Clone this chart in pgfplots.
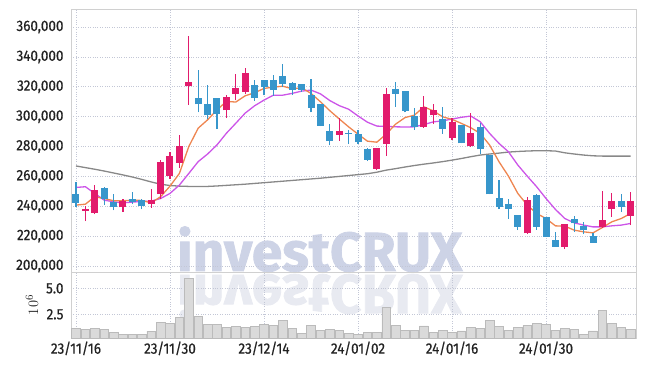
\documentclass[border=0pt]{standalone}
\usepackage{fontspec}
\setmainfont{Fira Sans}[FakeStretch=0.9, FakeBold=0.6]
\newfontfamily\wmfont{Fira Sans}[FakeBold=1.5]
\usepackage{pgfplots}
\pgfplotsset{compat=1.18}
\usepackage{pgfplotstable}
\definecolor{upc}{HTML}{E21B6C}
\definecolor{dnc}{HTML}{3796CB}
\definecolor{maA}{HTML}{EE8550}
\definecolor{maB}{HTML}{CC55E8}
\definecolor{maC}{HTML}{888888}
\definecolor{gridc}{HTML}{C3C7D6}
\definecolor{framec}{HTML}{D0D0D0}
\definecolor{wm}{HTML}{CDD3E6}
\definecolor{wmr}{HTML}{E8EAF1}
\definecolor{volf}{HTML}{DADADA}
\definecolor{vole}{HTML}{BBBBBB}
\definecolor{txt}{HTML}{222222}

% up candles: index, low, high, open, close (thousands)
\pgfplotstableread{
i lo hi bot top
1 230.0 240.1 237.0 238.1
2 234.5 254.0 235.6 250.6
5 236.3 245.0 239.2 243.5
8 238.9 251.7 241.2 244.4
9 244.8 271.0 248.2 269.4
10 258.2 276.6 260.5 273.9
11 265.6 287.6 269.2 280.2
12 308.0 354.3 320.3 323.4
16 299.0 314.7 304.2 313.1
17 310.9 328.6 315.1 319.2
18 315.1 332.6 316.5 329.2
28 283.8 299.2 287.8 290.3
32 264.1 278.9 265.0 278.9
33 273.7 319.1 282.0 315.1
37 292.5 313.7 293.2 306.6
38 295.0 308.8 301.0 304.4
40 284.4 299.1 285.5 296.4
42 279.9 302.7 280.6 289.3
48 221.3 246.4 221.8 244.1
52 211.3 228.0 212.8 228.0
56 225.7 250.2 226.2 230.7
57 233.0 248.6 237.9 243.5
59 227.4 249.7 233.6 243.5
}\upTable

% down candles: index, low, high, close, open (thousands)
\pgfplotstableread{
i lo hi bot top
0 239.7 256.4 242.3 248.2
3 240.8 253.1 245.2 252.2
4 237.2 248.2 239.2 243.0
6 241.4 249.3 242.6 244.6
7 237.9 245.2 240.3 244.4
13 302.8 331.3 308.2 312.4
14 298.3 321.0 300.8 308.4
15 291.6 312.4 301.7 312.4
19 310.7 324.8 312.4 321.4
20 314.2 324.5 319.8 324.5
21 313.8 328.2 317.8 324.4
22 319.6 335.6 321.8 327.1
23 314.4 323.3 317.8 322.4
24 316.4 321.8 317.8 321.8
25 302.8 324.9 305.8 314.5
26 293.6 308.4 293.9 308.4
27 280.7 295.4 283.6 290.5
29 281.6 290.9 288.3 289.4
30 282.0 290.9 282.9 288.3
31 270.2 279.3 271.1 278.2
34 306.6 322.9 315.3 318.4
35 302.8 317.1 303.7 317.1
36 291.4 305.5 293.2 300.3
39 288.5 306.2 291.8 298.5
41 282.1 294.6 282.1 294.6
43 274.7 296.0 278.1 292.8
44 247.9 274.1 247.9 274.1
45 238.1 257.5 239.2 245.5
46 231.8 244.8 238.3 241.4
47 224.0 234.1 226.2 234.1
49 224.4 247.9 226.2 247.5
50 219.5 232.7 219.5 232.7
51 212.8 222.9 212.8 217.3
53 222.9 233.4 228.5 231.2
54 221.3 229.6 224.2 226.9
55 215.5 222.4 215.5 220.2
58 236.3 248.1 239.7 243.5
}\dnTable

% moving averages and volume (millions)
\pgfplotstableread{
i a b c v
0 240.8 252.6 267.0 1.15
1 241.4 253.1 265.9 1.06
2 246.4 248.6 264.8 1.15
3 245.2 244.1 263.6 1.06
4 243.7 243.0 262.3 0.77
5 243.7 242.3 261.0 0.58
6 244.1 242.8 259.6 0.58
7 243.9 243.2 258.0 0.58
8 242.3 243.5 256.3 0.87
9 246.4 245.2 254.8 1.73
10 253.5 248.6 253.9 1.63
11 262.0 254.2 253.5 2.21
12 280.0 262.0 253.3 5.96
13 292.3 269.9 253.2 2.31
14 297.9 275.0 253.3 1.54
15 304.6 281.1 253.6 1.54
16 310.2 288.9 254.0 1.25
17 309.8 295.6 254.4 1.35
18 314.0 302.4 254.8 1.25
19 316.0 307.3 255.3 1.35
20 318.9 311.1 255.8 1.54
21 319.8 314.4 256.3 1.44
22 320.4 314.4 256.8 1.92
23 318.7 315.6 257.3 1.15
24 319.3 317.1 257.8 0.67
25 315.6 317.8 258.3 1.44
26 310.0 315.3 258.8 0.96
27 304.0 310.8 259.4 1.06
28 298.5 307.4 260.0 0.96
29 293.2 305.0 260.6 0.67
30 288.3 300.5 261.2 0.58
31 283.6 296.3 261.8 0.77
32 282.9 293.7 262.8 0.77
33 288.3 293.5 264.2 3.17
34 295.0 293.2 265.2 1.44
35 299.4 293.1 266.3 0.96
36 301.0 293.2 267.3 0.96
37 306.6 294.7 268.2 1.38
38 303.9 296.5 269.0 0.77
39 299.9 297.2 269.9 0.96
40 298.2 298.4 270.9 0.77
41 295.5 299.6 272.0 0.90
42 292.6 300.4 273.2 1.25
43 288.8 296.6 274.3 1.15
44 281.0 288.8 275.0 1.92
45 269.8 282.1 275.6 1.35
46 260.2 276.5 276.3 0.96
47 248.6 267.6 276.7 1.25
48 240.8 260.2 277.0 1.44
49 235.2 253.1 277.2 1.63
50 231.8 245.2 277.2 1.54
51 226.9 237.9 277.0 0.96
52 226.7 231.8 275.8 1.15
53 224.0 228.9 275.0 1.06
54 222.9 227.4 274.3 0.58
55 222.2 226.2 273.8 0.90
56 225.8 226.2 273.6 2.88
57 229.6 226.9 273.6 1.63
58 231.8 227.4 273.6 1.25
59 235.2 228.5 273.6 1.06
}\maTable

\pgfplotsset{
  panel/.style={
    scale only axis, width=565pt,
    xmin=-0.53, xmax=59.57,
    axis line style={framec},
    major tick length=0pt,
    grid=major,
    grid style={gridc, dotted, line width=0.7pt},
    xtick={0,10,...,50},
    tick label style={font=\fontsize{15}{15}\selectfont, text=txt},
    yticklabel style={xshift=-4pt},
    /pgf/number format/assume math mode=true,
    clip=true,
  },
  candle/.style 2 args={draw=none, mark=none, forget plot,
    error bars/.cd, y dir=plus, y explicit, error mark=none,
    error bar style={draw=#1, line width=#2, line cap=butt}},
}

\begin{document}
\begin{tikzpicture}
% watermark and its reflection
\node[anchor=base west, inner sep=0, text=wm,
  font=\wmfont\bfseries\fontsize{55}{55}\selectfont] at (106pt,1pt) {investCRUX};
\node[anchor=base west, inner sep=0, text=wmr, yscale=-1, transform shape,
  font=\wmfont\bfseries\fontsize{55}{55}\selectfont] at (106pt,-3pt) {investCRUX};

\begin{axis}[panel, at={(0,0)}, anchor=south west, height=263pt,
  ymin=196, ymax=372.1,
  ytick={200,220,...,360},
  yticklabels={{200,000},{220,000},{240,000},{260,000},{280,000},{300,000},{320,000},{340,000},{360,000}},
  xticklabels={},
]
\addplot[maC, line width=1.3pt, mark=none] table[x=i, y=c] \maTable;
\addplot[maB, line width=1.3pt, mark=none] table[x=i, y=b] \maTable;
\addplot[maA, line width=1.3pt, mark=none] table[x=i, y=a] \maTable;
\addplot[candle={upc}{1.2pt}] table[x=i, y=lo, y error expr=\thisrow{hi}-\thisrow{lo}] \upTable;
\addplot[candle={upc}{7pt}] table[x=i, y=bot, y error expr=\thisrow{top}-\thisrow{bot}] \upTable;
\addplot[candle={dnc}{1.2pt}] table[x=i, y=lo, y error expr=\thisrow{hi}-\thisrow{lo}] \dnTable;
\addplot[candle={dnc}{7pt}] table[x=i, y=bot, y error expr=\thisrow{top}-\thisrow{bot}] \dnTable;
\end{axis}

\begin{axis}[panel, at={(0,0)}, anchor=north west, height=66pt,
  ymin=0.22, ymax=6.57,
  ytick={2.5,5}, yticklabels={2.5,5.0},
  xticklabels={23/11/16,23/11/30,23/12/14,24/01/02,24/01/16,24/01/30},
  ylabel={$10^6$},
  ylabel style={at={(axis description cs:-0.069,0.5)}, anchor=center, font=\fontsize{15}{15}\selectfont, text=txt},
]
\addplot[ybar, bar width=8.6pt, fill=volf, draw=vole, line width=0.5pt] table[x=i, y=v] \maTable;
\end{axis}
\pgfresetboundingbox
\path[use as bounding box] (-71pt,-94pt) rectangle (574pt,272pt);
\end{tikzpicture}
\end{document}
